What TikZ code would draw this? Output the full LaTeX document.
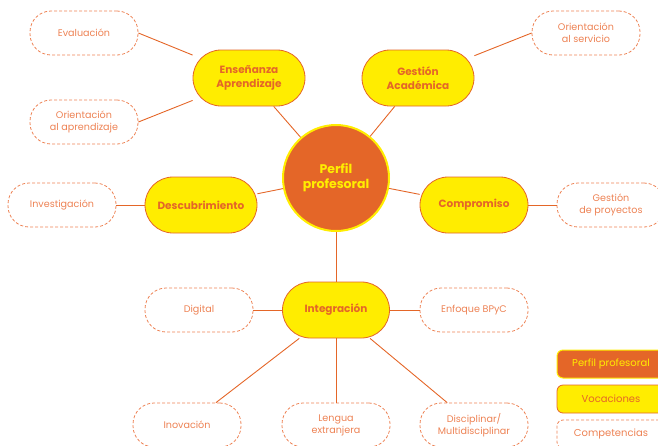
\documentclass[tikz,border=0pt]{standalone}
\usepackage{fontspec}
\setmainfont{Poppins}
\usepackage{xcolor}
\definecolor{naranja}{RGB}{228,102,40}
\definecolor{amarillo}{RGB}{255,237,0}
\definecolor{salmon}{RGB}{237,130,84}

\begin{document}
\begin{tikzpicture}[
    x=1pt, y=-1pt,
    perfil/.style={circle, draw=amarillo, line width=2pt, fill=naranja, minimum size=106pt, text=amarillo, font=\bfseries\fontsize{12.5}{15}\selectfont, align=center},
    vocacion/.style={draw=naranja, fill=amarillo, line width=0.8pt, minimum width=112pt, minimum height=56pt, rounded corners=28pt, text=naranja, font=\bfseries\fontsize{10.5}{14}\selectfont, align=center},
    competencia/.style={draw=salmon, dash pattern=on 3pt off 2pt, line width=0.8pt, minimum width=108pt, minimum height=44pt, rounded corners=21pt, text=salmon, font=\fontsize{9.6}{12}\selectfont, align=center},
    leyenda/.style={minimum width=108pt, minimum height=28pt, rounded corners=6pt, font=\fontsize{10}{12}\selectfont},
    enlace/.style={draw=naranja, line width=0.9pt}
]
    \useasboundingbox (0,0) rectangle (658,445);

    % Perfil
    \node[perfil] (perfil) at (336,178) {Perfil\\profesoral};

    % Vocaciones
    \node[vocacion] (ensenanza) at (249,78) {Enseñanza\\Aprendizaje};
    \node[vocacion] (gestion) at (418,78) {Gestión\\Académica};
    \node[vocacion] (descubrimiento) at (201,205) {Descubrimiento};
    \node[vocacion, minimum width=108pt] (compromiso) at (474,205) {Compromiso};
    \node[vocacion, minimum width=107pt] (integracion) at (336,310) {Integración};

    % Competencias
    \node[competencia] (evaluacion) at (84,33) {Evaluación};
    \node[competencia] (oriaprendizaje) at (84,122) {Orientación\\al aprendizaje};
    \node[competencia] (investigacion) at (62,205) {Investigación};
    \node[competencia] (oriservicio) at (586,33) {Orientación\\al servicio};
    \node[competencia] (proyectos) at (611,205) {Gestión\\de proyectos};
    \node[competencia] (digital) at (199,310) {Digital};
    \node[competencia] (bpyc) at (474,310) {Enfoque BPyC};
    \node[competencia] (inovacion) at (187,425) {Inovación};
    \node[competencia] (lengua) at (336,425) {Lengua\\extranjera};
    \node[competencia] (disciplinar) at (474,425) {Disciplinar/\\Multidisciplinar};

    % Leyenda
    \node[leyenda, draw=amarillo, fill=naranja, text=amarillo, line width=1pt] (leyperfil) at (611,364) {Perfil profesoral};
    \node[leyenda, draw=naranja, fill=amarillo, text=naranja, line width=0.8pt] (leyvocacion) at (611,399) {Vocaciones};
    \node[leyenda, draw=salmon, dash pattern=on 3pt off 2pt, text=salmon, line width=0.8pt] (leycompetencia) at (611,434) {Competencias};

    \draw[enlace] (evaluacion.east) -- (ensenanza);
    \draw[enlace] (oriaprendizaje.east) -- (ensenanza);
    \draw[enlace] (ensenanza) -- (perfil);
    \draw[enlace] (gestion) -- (perfil);
    \draw[enlace] (oriservicio.west) -- (gestion);
    \draw[enlace] (investigacion) -- (descubrimiento);
    \draw[enlace] (descubrimiento) -- (perfil);
    \draw[enlace] (compromiso) -- (perfil);
    \draw[enlace] (compromiso) -- (proyectos);
    \draw[enlace] (perfil) -- (integracion);
    \draw[enlace] (digital) -- (integracion);
    \draw[enlace] (integracion) -- (bpyc);
    \draw[enlace] (integracion) -- (inovacion);
    \draw[enlace] (integracion) -- (lengua);
    \draw[enlace] (integracion) -- (disciplinar);
\end{tikzpicture}
\end{document}
